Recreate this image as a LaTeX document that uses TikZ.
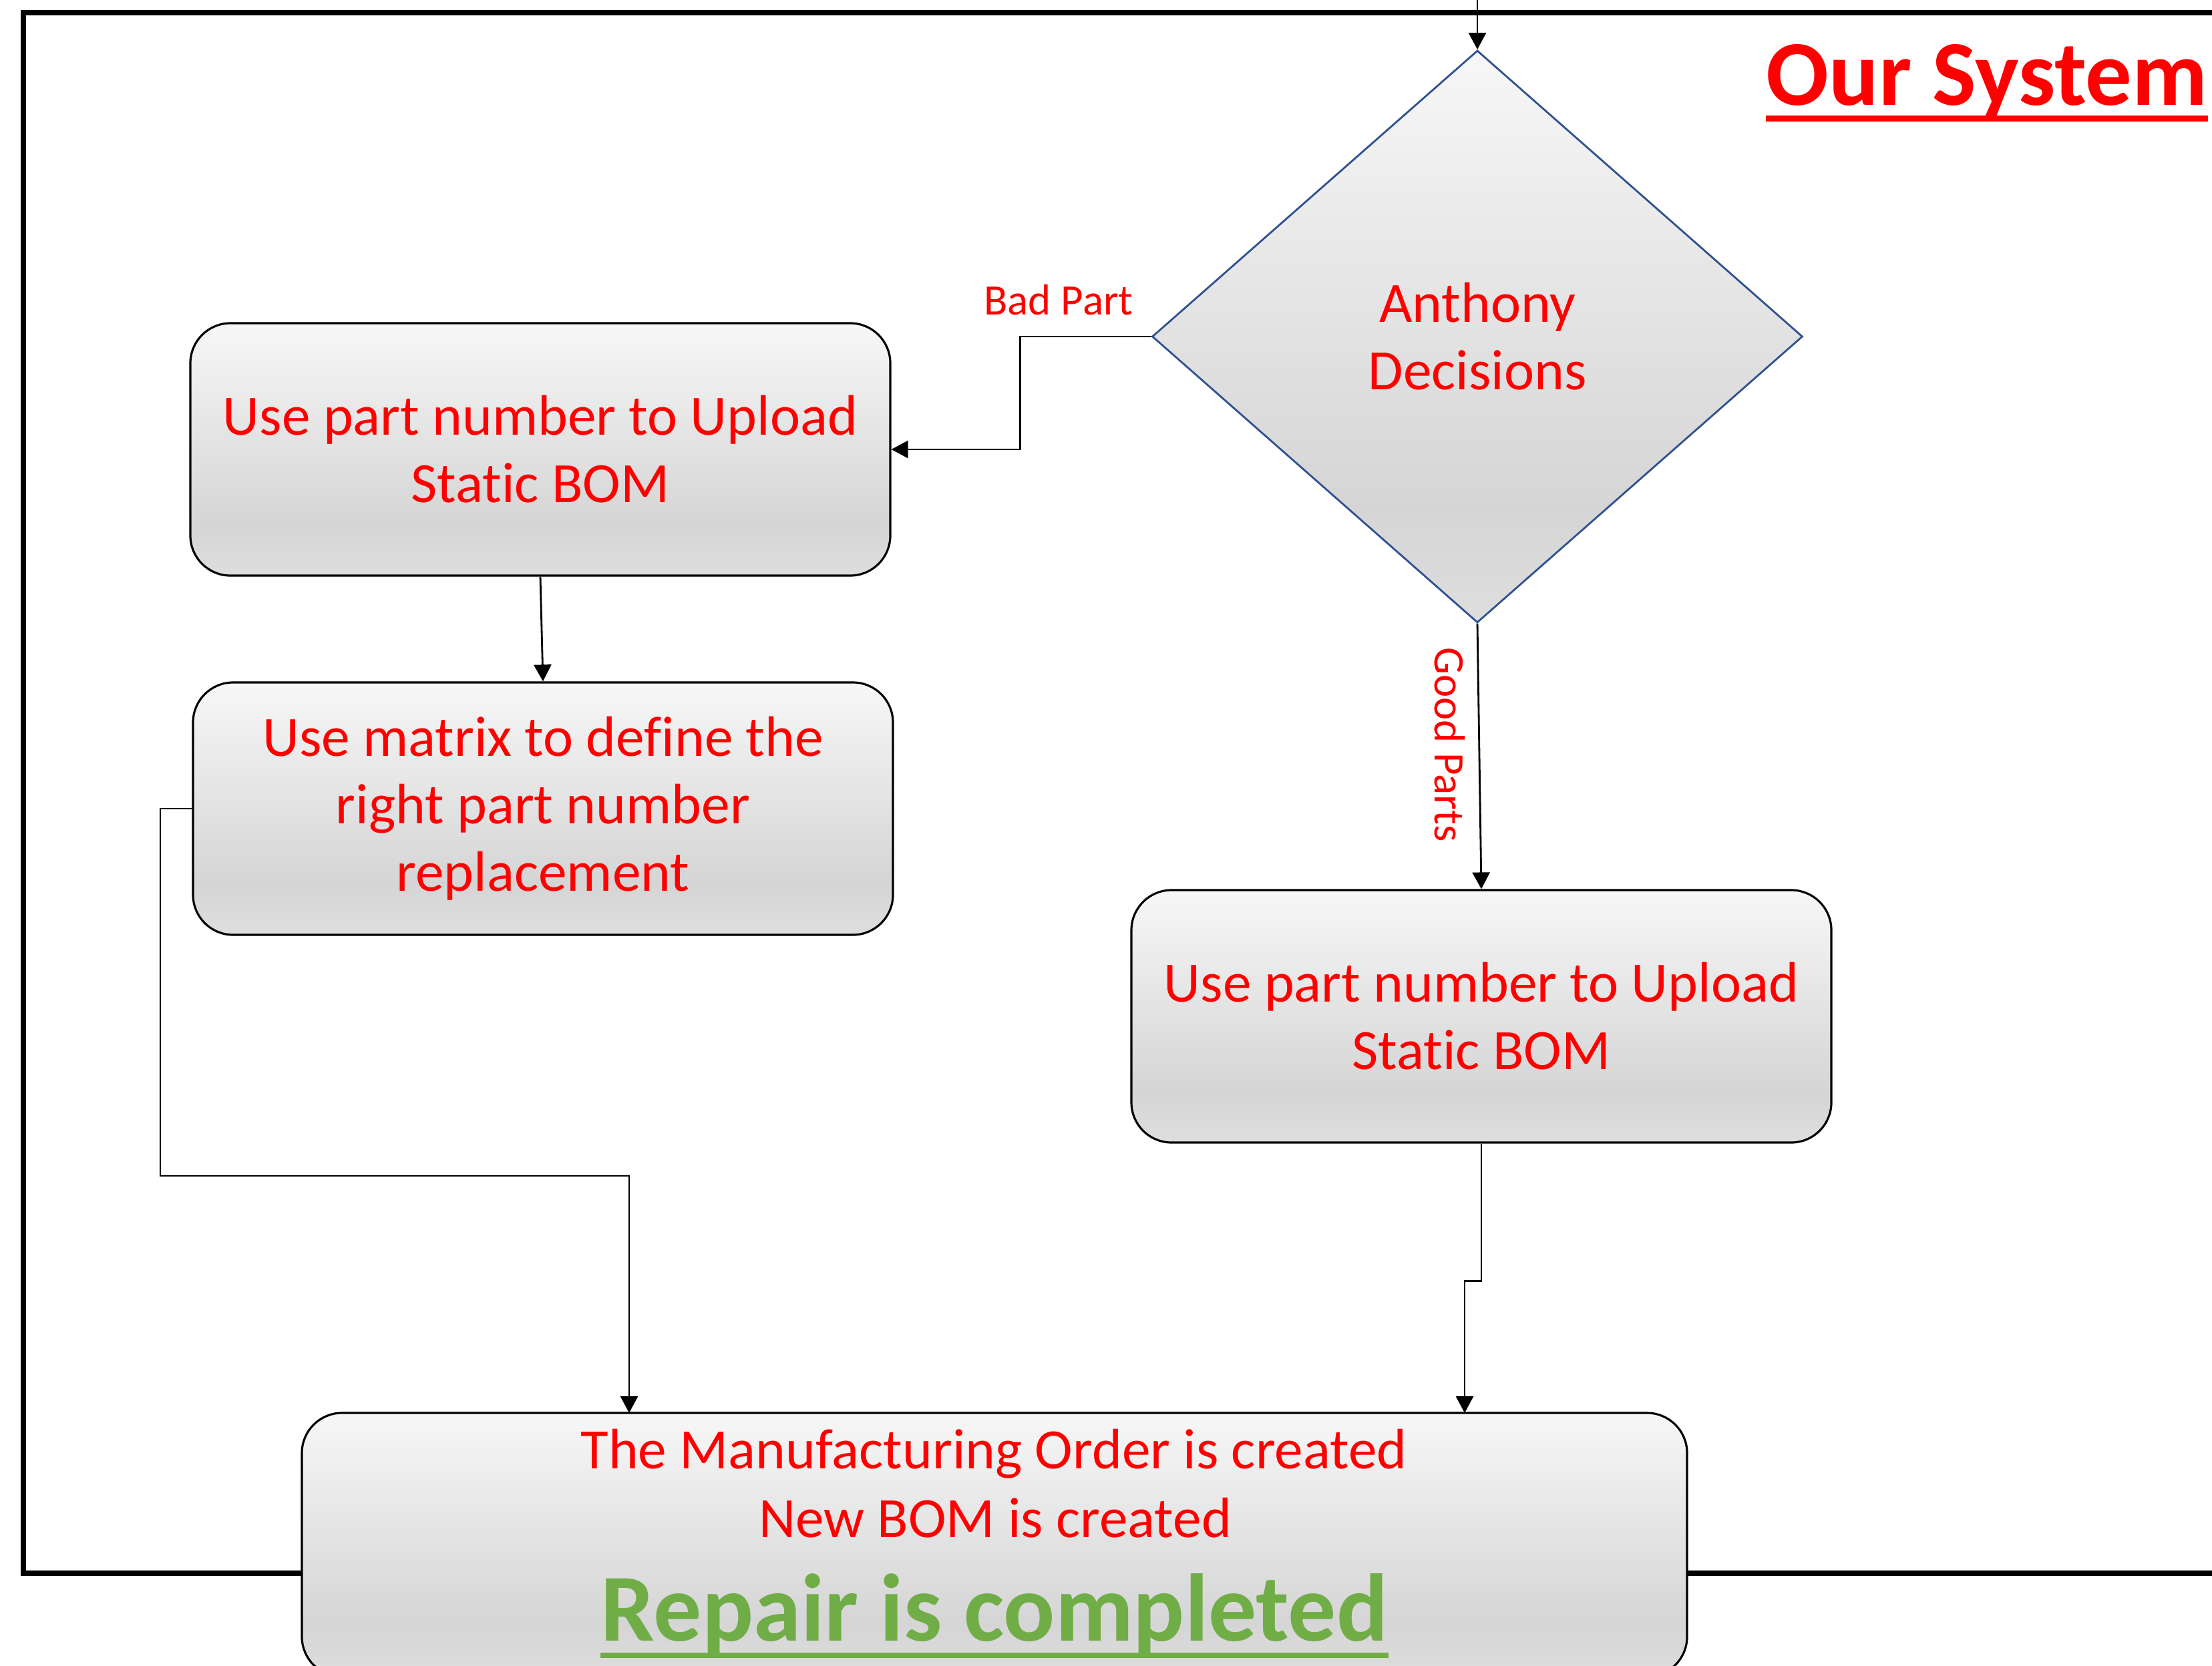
\documentclass[tikz,border=0pt]{standalone}
\usepackage{fontspec}
\setmainfont[Ligatures=NoCommon]{Carlito}
\usepackage{tikz}
\usetikzlibrary{arrows.meta,shapes.geometric}
\definecolor{redtext}{HTML}{FF0000}
\definecolor{greentext}{HTML}{70AD47}
\definecolor{diamondline}{HTML}{2F528F}
\definecolor{shadetop}{HTML}{F7F7F7}
\definecolor{shademid}{HTML}{D5D5D5}
\definecolor{shadebot}{HTML}{DEDEDE}
\pgfdeclareverticalshading{officegray}{100bp}{color(0bp)=(shadebot); color(25bp)=(shadebot); color(35bp)=(shademid); color(75bp)=(shadetop); color(100bp)=(shadetop)}

\begin{document}
\begin{tikzpicture}
[proc/.style={draw,line width=0.9pt,rounded corners=0.6cm,shade,shading=officegray,minimum width=10.48cm,minimum height=3.78cm,align=center,text=redtext,font=\fontsize{24.3}{28.75}\selectfont},
decision/.style={diamond,draw=diamondline,line width=0.8pt,shade,shading=officegray,minimum width=9.74cm,minimum height=8.57cm,inner sep=0pt,align=center,text=redtext,font=\fontsize{24.3}{28.75}\selectfont},
lbl/.style={text=redtext,font=\fontsize{18.5}{22}\selectfont,inner sep=0pt,anchor=base},
inbox/.style={text=redtext,font=\fontsize{24.3}{28.75}\selectfont,inner sep=0pt,anchor=base},
arr/.style={-{Triangle[width=0.26cm,length=0.25cm]},line width=0.8pt}]
\useasboundingbox (0,0) rectangle (33.12,-24.94);
\draw[line width=0.08cm] (33.3,-0.19) -- (0.35,-0.19) -- (0.35,-23.56) -- (33.3,-23.56);
\node[anchor=base,inner sep=0pt,text=redtext,font=\fontsize{39.5}{48}\selectfont\bfseries] (title) at (29.75,-1.57) {Our System};
\draw[redtext,line width=0.09cm] ([yshift=-0.205cm]title.base west) -- ([yshift=-0.205cm]title.base east);
\coordinate (entry) at (22.12,0);
\node[decision] (dec) at (22.12,-5.04) {Anthony\\Decisions};
\node[proc] (boxA) at (8.09,-6.73) {Use part number to Upload\\Static BOM};
\node[proc] (boxB) at (8.13,-12.11) {Use matrix to define the\\right part number\\replacement};
\node[proc] (boxC) at (22.18,-15.22) {Use part number to Upload\\Static BOM};
\node[proc,minimum width=20.74cm,minimum height=3.95cm] (boxD) at (14.89,-23.135) {};
\node[inbox] (orderText) at (14.88,-21.99) {The Manufacturing Order is created};
\node[inbox] (bomText) at (14.90,-23.02) {New BOM is created};
\node[inbox,text=greentext,font=\fontsize{40.9}{48}\selectfont\bfseries] (doneText) at (14.89,-24.57) {Repair is completed};
\draw[greentext,line width=0.08cm] ([yshift=-0.22cm]doneText.base west) -- ([yshift=-0.22cm]doneText.base east);
\node[lbl] (badLbl) at (15.85,-4.71) {Bad Part};
\node[lbl,rotate=-90] (goodLbl) at (21.48,-11.15) {Good Parts};
\coordinate (inLeft) at (9.42,-21.16);
\coordinate (inRight) at (21.93,-21.16);
\draw[arr] (entry) -- (dec.north);
\draw[arr] (dec.west) -- ++(-1.96,0) |- (boxA.east);
\draw[arr] (boxA.south) -- (boxB.north);
\draw[arr] (boxB.west) -| (2.40,-17.61) -| (inLeft);
\draw[arr] (dec.south) -- (boxC.north);
\draw[arr] (boxC.south) -- ++(0,-2.06) -| (inRight);
\end{tikzpicture}
\end{document}
